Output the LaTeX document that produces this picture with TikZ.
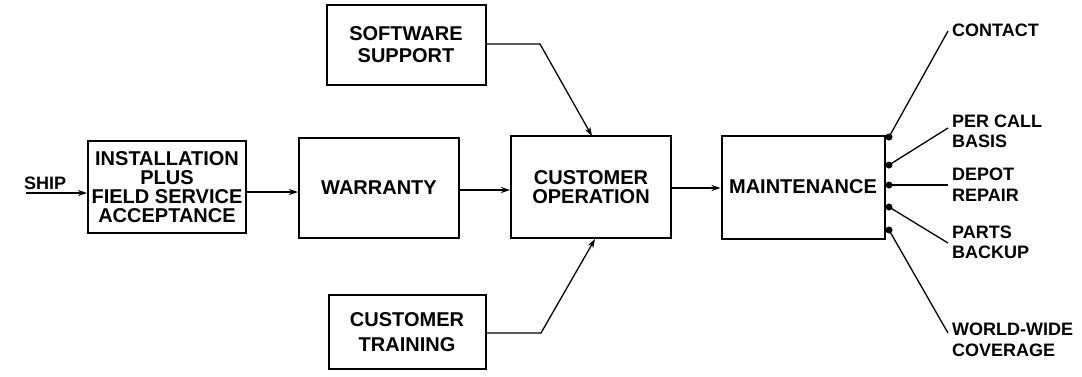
\documentclass[tikz,border=0pt]{standalone}
\usepackage{fontspec}
\setmainfont{Liberation Sans}
\usetikzlibrary{arrows.meta}
\begin{document}
\begin{tikzpicture}[x=1pt,y=-1pt,
  blk/.style={draw,line width=2pt,minimum width=#1,inner sep=0pt,align=center,font=\fontsize{20}{19}\selectfont\bfseries},
  lbl/.style={anchor=west,inner sep=0pt,align=left,font=\fontsize{18}{20.5}\selectfont\bfseries},
  arr/.style={line width=1.3pt,-{Stealth[length=9pt,width=6pt]}},
  ln/.style={line width=1.3pt},
  dotn/.style={circle,fill,inner sep=0pt,minimum size=7pt}]
\useasboundingbox (0,0) rectangle (1082,376);
\node[blk=158pt,minimum height=92pt] (inst) at (167,187) {INSTALLATION\\PLUS\\FIELD SERVICE\\ACCEPTANCE};
\node[blk=160pt,minimum height=100pt] (war) at (379,188) {WARRANTY};
\node[blk=159pt,minimum height=80pt,font=\fontsize{20}{22}\selectfont\bfseries] (soft) at (406,45) {SOFTWARE\\SUPPORT};
\node[blk=160pt,minimum height=102pt] (cop) at (591,187) {CUSTOMER\\OPERATION};
\node[blk=157pt,minimum height=74pt,font=\fontsize{20}{25}\selectfont\bfseries] (trn) at (407,332) {CUSTOMER\\TRAINING};
\node[blk=163pt,minimum height=103pt] (mnt) at (803,187) {MAINTENANCE};
\node[lbl] (ship) at (24,183) {SHIP};
\coordinate (s0) at (26,193);
\draw[arr] (s0) -- (s0 -| inst.west);
\coordinate (i0) at (inst.east |- 0,192);
\draw[arr] (i0) -- (i0 -| war.west);
\coordinate (w0) at (war.east |- 0,190);
\draw[arr] (w0) -- (w0 -| cop.west);
\coordinate (c0) at (cop.east |- 0,188);
\draw[arr] (c0) -- (c0 -| mnt.west);
\coordinate (sa) at (soft.east |- 0,44);
\coordinate (sb) at (540,44);
\coordinate (se) at (592,136);
\draw[arr] (sa) -- (sb) -- (se);
\coordinate (ta) at (trn.east |- 0,333);
\coordinate (tb) at (541,333);
\coordinate (te) at (595,239);
\draw[arr] (ta) -- (tb) -- (te);
\node[dotn] (d1) at (889,137) {};
\node[dotn] (d2) at (889,165) {};
\node[dotn] (d3) at (889,185) {};
\node[dotn] (d4) at (889,207) {};
\node[dotn] (d5) at (889,230) {};
\node[lbl] (l1) at (952,30) {CONTACT};
\node[lbl] (l2) at (952,131.5) {PER CALL\\BASIS};
\node[lbl] (l3) at (952,184.5) {DEPOT\\REPAIR};
\node[lbl] (l4) at (952,242.5) {PARTS\\BACKUP};
\node[lbl] (l5) at (952,340) {WORLD-WIDE\\COVERAGE};
\coordinate (e1) at (948,31);
\coordinate (e2) at (948,128);
\coordinate (e3) at (948,185);
\coordinate (e4) at (948,243);
\coordinate (e5) at (948,333);
\draw[ln] (d1.center) -- (e1);
\draw[ln] (d2.center) -- (e2);
\draw[ln] (d3.center) -- (e3);
\draw[ln] (d4.center) -- (e4);
\draw[ln] (d5.center) -- (e5);
\end{tikzpicture}
\end{document}
